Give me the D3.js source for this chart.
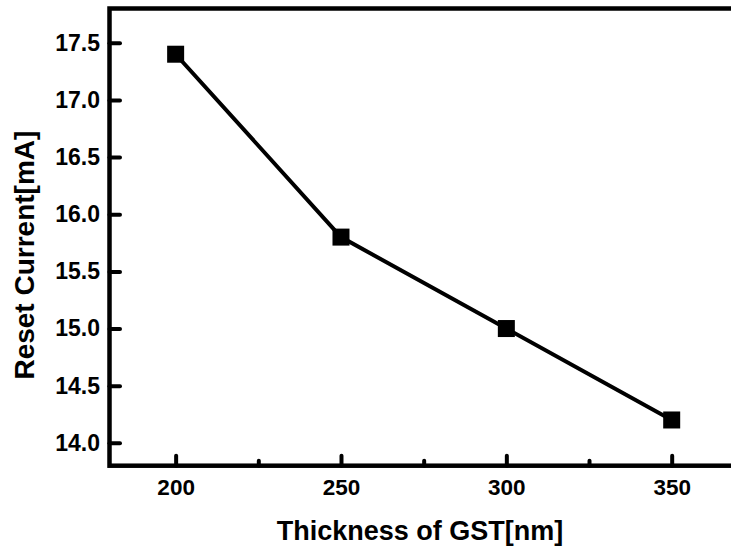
<!DOCTYPE html>
<html>
<head>
<meta charset="utf-8">
<script src="https://cdn.jsdelivr.net/npm/d3@7"></script>
<style>
  html, body { margin: 0; padding: 0; background: #fff; }
  svg { display: block; }
  text { font-family: "Liberation Sans", Arial, sans-serif; font-weight: bold; fill: #000; }
</style>
</head>
<body>
<svg id="chart" width="731" height="549"></svg>
<script>
// GST layer thickness (nm) and the measured reset current (mA)
const thickness = [200, 250, 300, 350];
const resetCurrent = [17.4, 15.8, 15.0, 14.2];
const xTicks = [200, 250, 300, 350];
const xMinorTicks = [225, 275, 325];
const yTicks = [14.0, 14.5, 15.0, 15.5, 16.0, 16.5, 17.0, 17.5];
const xTitle = "Thickness of GST[nm]";
const yTitle = "Reset Current[mA]";

const svg = d3.select("#chart");

// The frame runs past the right edge of the page, so the x range does too
const x = d3.scaleLinear().domain([180, 380]).range([109.5, 770.9]);
const y = d3.scaleLinear().domain([13.8, 17.8]).range([465.7, 8.5]);

const axisW = 4.5;

// frame: left, bottom, top and (clipped) right edges
const [x0, x1] = x.range();
const [yb, yt] = y.range();
svg.append("rect")
  .attr("x", x0).attr("y", yt)
  .attr("width", x1 - x0).attr("height", yb - yt)
  .attr("fill", "none").attr("stroke", "#000").attr("stroke-width", axisW);

// bottom axis with inward ticks
const xAxis = d3.axisBottom(x)
  .tickValues(xTicks)
  .tickFormat(d3.format("d"))
  .tickSizeInner(-10)
  .tickSizeOuter(0)
  .tickPadding(13);
const gx = svg.append("g").attr("transform", `translate(0,${yb})`).call(xAxis);
gx.select(".domain").remove();
gx.selectAll(".tick line").attr("stroke", "#000").attr("stroke-width", 4).attr("stroke-linecap", "round");
gx.selectAll(".tick text").attr("font-size", 22.5).attr("font-family", null).attr("fill", "#000")
  .attr("dy", "0.71em");

// minor x ticks
const gxm = svg.append("g").attr("transform", `translate(0,${yb})`)
  .call(d3.axisBottom(x).tickValues(xMinorTicks).tickSizeInner(-5).tickSizeOuter(0).tickFormat(""));
gxm.select(".domain").remove();
gxm.selectAll(".tick line").attr("stroke", "#000").attr("stroke-width", 4).attr("stroke-linecap", "round");

// left axis with inward ticks
const yAxis = d3.axisLeft(y)
  .tickValues(yTicks)
  .tickFormat(d3.format(".1f"))
  .tickSizeInner(-10.5)
  .tickSizeOuter(0)
  .tickPadding(9.5);
const gy = svg.append("g").attr("transform", `translate(${x0},0)`).call(yAxis);
gy.select(".domain").remove();
gy.selectAll(".tick line").attr("stroke", "#000").attr("stroke-width", 4).attr("stroke-linecap", "round");
gy.selectAll(".tick text").attr("font-size", 23).attr("font-family", null).attr("fill", "#000");

// data line
const pts = thickness.map((t, i) => [t, resetCurrent[i]]);
svg.append("path")
  .datum(pts)
  .attr("fill", "none")
  .attr("stroke", "#000")
  .attr("stroke-width", 4)
  .attr("d", d3.line().x(d => x(d[0])).y(d => y(d[1])));

// square markers
const ms = 17;
svg.append("g").selectAll("rect")
  .data(pts)
  .join("rect")
  .attr("x", d => x(d[0]) - ms / 2)
  .attr("y", d => y(d[1]) - ms / 2)
  .attr("width", ms).attr("height", ms)
  .attr("fill", "#000");

// axis titles
svg.append("text")
  .attr("x", 420).attr("y", 540)
  .attr("text-anchor", "middle")
  .attr("font-size", 27)
  .text(xTitle);

svg.append("text")
  .attr("transform", `translate(34,${(yb + yt) / 2 + 18}) rotate(-90)`)
  .attr("text-anchor", "middle")
  .attr("font-size", 28)
  .text(yTitle);
</script>
</body>
</html>
